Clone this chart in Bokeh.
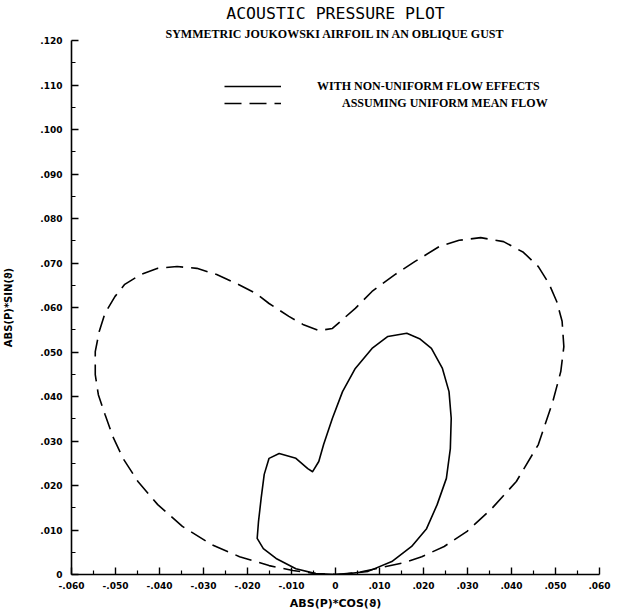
from bokeh.plotting import figure
from bokeh.models import Range1d, FixedTicker, Title, Legend, LegendItem
from bokeh.embed import file_html
from bokeh.resources import INLINE

# ABS(P)*COS(theta), ABS(P)*SIN(theta) -- assuming uniform mean flow (dashed)
uniform_x = [0.0, 0.0049, 0.0106, 0.0157, 0.0196, 0.0247, 0.0299, 0.0355, 0.0411, 0.0461,
             0.0494, 0.0512, 0.0519, 0.0515, 0.0503, 0.0485, 0.0461, 0.0427, 0.0382, 0.0330,
             0.0281, 0.0236, 0.0180, 0.0135, 0.0083, 0.0045, 0.0016, -0.0007, -0.0038, -0.0074,
             -0.0106, -0.0151, -0.0180, -0.0225, -0.0270, -0.0315, -0.0360, -0.0404, -0.0443, -0.0479,
             -0.0501, -0.0524, -0.0537, -0.0546, -0.0546, -0.0539, -0.0524, -0.0506, -0.0483, -0.0449,
             -0.0404, -0.0348, -0.0281, -0.0218, -0.0151, -0.0097, -0.0045, 0.0]
uniform_y = [0.0, 0.0004, 0.0016, 0.0027, 0.0040, 0.0063, 0.0097, 0.0148, 0.0209, 0.0292,
             0.0389, 0.0456, 0.0512, 0.0569, 0.0613, 0.0654, 0.0692, 0.0724, 0.0748, 0.0757,
             0.0751, 0.0737, 0.0703, 0.0674, 0.0636, 0.0598, 0.0573, 0.0553, 0.0548, 0.0562,
             0.0580, 0.0609, 0.0631, 0.0654, 0.0674, 0.0688, 0.0692, 0.0688, 0.0674, 0.0652,
             0.0625, 0.0587, 0.0546, 0.0501, 0.0449, 0.0404, 0.0360, 0.0310, 0.0261, 0.0209,
             0.0157, 0.0108, 0.0067, 0.0040, 0.0020, 0.0009, 0.0002, 0.0]

# with non-uniform flow effects (solid)
nonuniform_x = [0.0, 0.0022, 0.0074, 0.0128, 0.0173, 0.0207, 0.0231, 0.0252, 0.0261, 0.0263,
                0.0258, 0.0243, 0.0218, 0.0191, 0.0162, 0.0119, 0.0083, 0.0045, 0.0016, -0.0007,
                -0.0027, -0.0038, -0.0052, -0.0063, -0.0090, -0.0128, -0.0151, -0.0162, -0.0169, -0.0175,
                -0.0178, -0.0164, -0.0135, -0.0090, -0.0045, 0.0]
nonuniform_y = [0.0, 0.0001, 0.0007, 0.0029, 0.0063, 0.0103, 0.0157, 0.0216, 0.0283, 0.0351,
                0.0411, 0.0463, 0.0508, 0.0530, 0.0542, 0.0535, 0.0508, 0.0463, 0.0411, 0.0351,
                0.0292, 0.0254, 0.0231, 0.0238, 0.0261, 0.0272, 0.0261, 0.0225, 0.0171, 0.0119,
                0.0081, 0.0058, 0.0036, 0.0013, 0.0002, 0.0]

x_tick_values = [-0.06, -0.05, -0.04, -0.03, -0.02, -0.01, 0.0, 0.01, 0.02, 0.03, 0.04, 0.05, 0.06]
x_tick_labels = ["-.060", "-.050", "-.040", "-.030", "-.020", "-.010", "0",
                 ".010", ".020", ".030", ".040", ".050", ".060"]
x_minor_ticks = [-0.055, -0.045, -0.035, -0.025, -0.015, -0.005, 0.005, 0.015, 0.025, 0.035, 0.045, 0.055]
y_tick_values = [0.0, 0.01, 0.02, 0.03, 0.04, 0.05, 0.06, 0.07, 0.08, 0.09, 0.10, 0.11, 0.12]
y_tick_labels = ["0", ".010", ".020", ".030", ".040", ".050", ".060", ".070", ".080", ".090",
                 ".100", ".110", ".120"]
y_minor_ticks = [0.005, 0.015, 0.025, 0.035, 0.045, 0.055, 0.065, 0.075, 0.085, 0.095, 0.105, 0.115]

title_text = "ACOUSTIC PRESSURE PLOT"
subtitle_text = "SYMMETRIC JOUKOWSKI AIRFOIL IN AN OBLIQUE GUST"
legend_labels = ["WITH NON-UNIFORM FLOW EFFECTS", "ASSUMING UNIFORM MEAN FLOW"]
x_label = "ABS(P)*COS(\u03d1)"
y_label = "ABS(P)*SIN(\u03d1)"

p = figure(frame_width=528, frame_height=534,
           min_border_left=10, min_border_right=13, min_border_top=10, min_border_bottom=10,
           x_range=Range1d(-0.06, 0.06), y_range=Range1d(0.0, 0.12),
           output_backend="svg", toolbar_location=None, tools="")
p.outline_line_color = None
p.xgrid.visible = False
p.ygrid.visible = False
p.background_fill_color = "white"
p.border_fill_color = "white"

solid = p.line(nonuniform_x, nonuniform_y, line_color="black", line_width=1.6, line_join="round")
dashed = p.line(uniform_x, uniform_y, line_color="black", line_width=1.6, line_dash="17 8")

tick_font = "DejaVu Sans"
for ax, vals, labs, minors in ((p.xaxis[0], x_tick_values, x_tick_labels, x_minor_ticks),
                               (p.yaxis[0], y_tick_values, y_tick_labels, y_minor_ticks)):
    ax.ticker = FixedTicker(ticks=vals, minor_ticks=minors)
    ax.major_label_overrides = {v: l for v, l in zip(vals, labs)}
    ax.axis_line_width = 1.6
    ax.axis_line_color = "black"
    ax.major_tick_in = 7
    ax.major_tick_out = 0
    ax.minor_tick_in = 4
    ax.minor_tick_out = 0
    ax.major_tick_line_width = 1.4
    ax.minor_tick_line_width = 1.2
    ax.major_tick_line_color = "black"
    ax.minor_tick_line_color = "black"
    ax.major_label_text_font = tick_font
    ax.major_label_text_font_style = "bold"
    ax.major_label_text_font_size = "9px"
    ax.major_label_text_color = "black"
    ax.axis_label_text_font = tick_font
    ax.axis_label_text_font_style = "bold"
    ax.axis_label_text_color = "black"

p.xaxis[0].axis_label = x_label
p.xaxis[0].axis_label_text_font_size = "11px"
p.xaxis[0].major_label_standoff = 7
p.xaxis[0].axis_label_standoff = 5
p.yaxis[0].axis_label = y_label
p.yaxis[0].axis_label_text_font_size = "10px"
p.yaxis[0].major_label_standoff = 9
p.yaxis[0].axis_label_standoff = 23

p.add_layout(Title(text=subtitle_text, align="center", standoff=0, offset=0,
                   text_font="Liberation Serif", text_font_style="bold",
                   text_font_size="12px", text_color="black"), "above")
p.add_layout(Title(text=title_text, align="center", standoff=3, offset=0,
                   text_font="DejaVu Sans Mono", text_font_style="normal",
                   text_font_size="16.5px", text_color="black"), "above")

for renderer, label, loc, standoff in ((solid, legend_labels[0], (153, 478), 36),
                                       (dashed, legend_labels[1], (153, 461), 61)):
    lg = Legend(items=[LegendItem(label=label, renderers=[renderer])], location=loc,
                glyph_width=57, glyph_height=20, label_height=20, label_standoff=standoff,
                padding=0, margin=0, border_line_color=None, background_fill_alpha=0,
                label_text_font="Liberation Serif", label_text_font_style="bold",
                label_text_font_size="12px", label_text_color="black")
    p.add_layout(lg, "center")

open("out.html", "w").write(file_html(p, INLINE))
